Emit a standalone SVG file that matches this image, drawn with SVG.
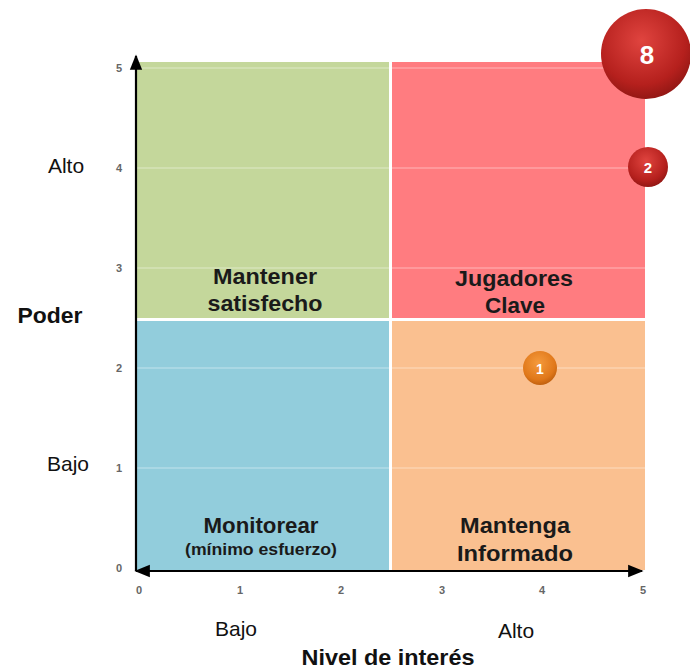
<svg xmlns="http://www.w3.org/2000/svg" width="690" height="671" viewBox="0 0 690 671">
<style>
.lbl{font-family:"Liberation Sans",Arial,sans-serif;font-size:22px;font-weight:bold;fill:#1a1a1a;text-anchor:middle}
.ax{font-family:"Liberation Sans",Arial,sans-serif;font-size:21px;fill:#111;text-anchor:middle}
.axb{font-family:"Liberation Sans",Arial,sans-serif;font-size:22px;font-weight:bold;fill:#111;text-anchor:middle}
.tk{font-family:"Liberation Sans",Arial,sans-serif;font-size:11px;font-weight:bold;fill:#666;text-anchor:middle}
.grid{stroke:#ffffff;stroke-opacity:0.45;stroke-width:1.2}
.bt{font-family:"Liberation Sans",Arial,sans-serif;font-weight:bold;fill:#fff;text-anchor:middle}
</style>
<defs>
<radialGradient id="gRed" cx="0.45" cy="0.35" r="0.7">
<stop offset="0" stop-color="#e0443f"/>
<stop offset="0.7" stop-color="#b5201d"/>
<stop offset="1" stop-color="#8a1512"/>
</radialGradient>
<radialGradient id="gOr" cx="0.45" cy="0.35" r="0.7">
<stop offset="0" stop-color="#f59a3c"/>
<stop offset="0.7" stop-color="#e0781a"/>
<stop offset="1" stop-color="#b85a0c"/>
</radialGradient>
<marker id="ah" viewBox="0 0 10 10" refX="9" refY="5" markerWidth="7" markerHeight="7" orient="auto-start-reverse">
<path d="M0,1 L10,5 L0,9 z" fill="#000"/>
</marker>
</defs>
<rect width="690" height="671" fill="#fff"/>
<g id="quadrants">
<rect id="q-green" x="137" y="62" width="252" height="256" fill="#c4d79b"/>
<rect id="q-red" x="392" y="62" width="253" height="256" fill="#ff7c80"/>
<rect id="q-blue" x="137" y="321" width="252" height="249" fill="#92cddc"/>
<rect id="q-orange" x="392" y="321" width="253" height="249" fill="#fac090"/>
<line class="grid" x1="137" y1="68" x2="645" y2="68"/>
<line class="grid" x1="137" y1="168" x2="645" y2="168"/>
<line class="grid" x1="137" y1="268" x2="645" y2="268"/>
<line class="grid" x1="137" y1="368" x2="645" y2="368"/>
<line class="grid" x1="137" y1="468" x2="645" y2="468"/>
</g>
<g id="connectors">
<line x1="136" y1="571" x2="136" y2="56" stroke="#000" stroke-width="2.2" marker-end="url(#ah)"/>
<line x1="136" y1="571" x2="642" y2="571" stroke="#000" stroke-width="2.2" marker-end="url(#ah)" marker-start="url(#ah)"/>
</g>
<g id="ticks">
<text class="tk" x="119" y="72">5</text>
<text class="tk" x="119" y="172">4</text>
<text class="tk" x="119" y="272">3</text>
<text class="tk" x="119" y="372">2</text>
<text class="tk" x="119" y="472">1</text>
<text class="tk" x="119" y="572">0</text>
<text class="tk" x="139" y="594">0</text>
<text class="tk" x="240" y="594">1</text>
<text class="tk" x="341" y="594">2</text>
<text class="tk" x="442" y="594">3</text>
<text class="tk" x="542" y="594">4</text>
<text class="tk" x="643" y="594">5</text>
</g>
<g id="axis-labels">
<text class="ax" x="66" y="173">Alto</text>
<text class="ax" x="68" y="471">Bajo</text>
<text class="axb" x="50" y="323" textLength="65" lengthAdjust="spacingAndGlyphs">Poder</text>
<text class="ax" x="236" y="636">Bajo</text>
<text class="ax" x="516" y="638">Alto</text>
<text class="axb" x="388" y="665" textLength="173" lengthAdjust="spacingAndGlyphs">Nivel de interés</text>
</g>
<g id="label-mantener">
<text class="lbl" x="265" y="284" textLength="104" lengthAdjust="spacingAndGlyphs">Mantener</text>
<text class="lbl" x="265" y="311" textLength="115" lengthAdjust="spacingAndGlyphs">satisfecho</text>
</g>
<g id="label-jugadores">
<text class="lbl" x="514" y="286" textLength="118" lengthAdjust="spacingAndGlyphs">Jugadores</text>
<text class="lbl" x="515" y="313" textLength="60" lengthAdjust="spacingAndGlyphs">Clave</text>
</g>
<g id="label-monitorear">
<text class="lbl" x="261" y="533" textLength="115" lengthAdjust="spacingAndGlyphs">Monitorear</text>
<text class="lbl" x="261" y="555" style="font-size:16px" textLength="152" lengthAdjust="spacingAndGlyphs">(mínimo esfuerzo)</text>
</g>
<g id="label-mantenga">
<text class="lbl" x="515" y="533" textLength="110" lengthAdjust="spacingAndGlyphs">Mantenga</text>
<text class="lbl" x="515" y="561" textLength="116" lengthAdjust="spacingAndGlyphs">Informado</text>
</g>
<g id="bubble-8">
<circle cx="646" cy="54" r="45" fill="url(#gRed)"/>
<text class="bt" x="647" y="64" font-size="26">8</text>
</g>
<g id="bubble-2">
<circle cx="648" cy="167" r="20" fill="url(#gRed)"/>
<text class="bt" x="648" y="173" font-size="15">2</text>
</g>
<g id="bubble-1">
<circle cx="540" cy="368" r="17" fill="url(#gOr)"/>
<text class="bt" x="540" y="374" font-size="14">1</text>
</g>
</svg>
